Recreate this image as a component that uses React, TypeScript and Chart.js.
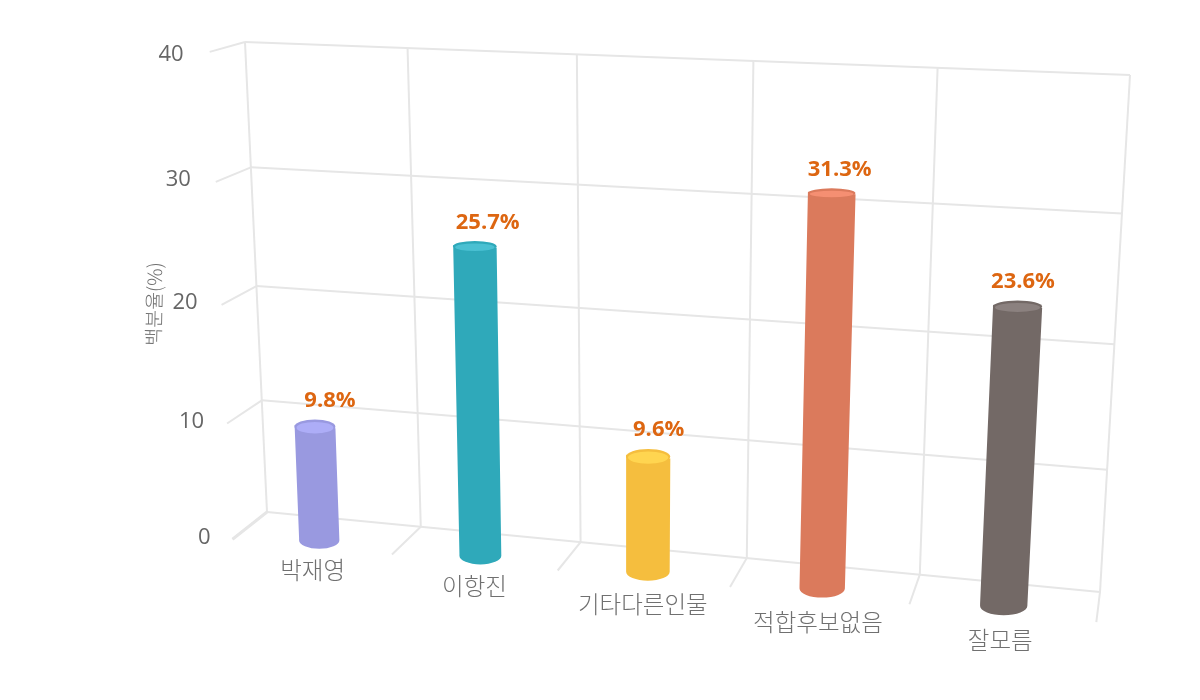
import React, { useEffect, useRef } from "react";
import { Chart, registerables } from "chart.js";

Chart.register(...registerables);

const categories = ["박재영", "이항진", "기타다른인물", "적합후보없음", "잘모름"];
const shares = [9.8, 25.7, 9.6, 31.3, 23.6];
const sideColors = ["#9999E0", "#2FA9BA", "#F5BE3E", "#DB7A5C", "#736966"];
const topColors = ["#ADADF7", "#4AC0D2", "#FFD550", "#F58F72", "#8B817F"];
const axisTitle = "백분율(%)";

// Camera: the back wall's corners on the page and the vanishing point of the depth axis.
const WALL = { bl: [267, 512], br: [1100, 592], tr: [1130, 75], tl: [245, 42] };
const VANISH = [1199, -225];
const FRONT_K = 1.037;
const BAR_K = 1.028;
const LABEL_K = 1.014;
const ELLIPSE_DK = 0.0112;
const VERTICAL_WARP = 0.04;

const GRID = "#E6E6E6";
const KOREAN = '"Noto Sans CJK KR", "Noto Sans", sans-serif';
const LATIN = '"Open Sans", "Noto Sans", sans-serif';

function makeHomography() {
  const [x0, y0] = WALL.bl, [x1, y1] = WALL.br, [x2, y2] = WALL.tr, [x3, y3] = WALL.tl;
  const dx1 = x1 - x2, dx2 = x3 - x2, sx = x0 - x1 + x2 - x3;
  const dy1 = y1 - y2, dy2 = y3 - y2, sy = y0 - y1 + y2 - y3;
  const den = dx1 * dy2 - dx2 * dy1;
  const g = (sx * dy2 - dx2 * sy) / den;
  const h = (dx1 * sy - sx * dy1) / den;
  const a = x1 - x0 + g * x1, b = x3 - x0 + h * x3;
  const d = y1 - y0 + g * y1, e = y3 - y0 + h * y3;
  return (u: number, v: number) => {
    const w = g * u + h * v + 1;
    return [(a * u + b * v + x0) / w, (d * u + e * v + y0) / w];
  };
}
const wallPoint = makeHomography();

const project = (u: number, v: number, k = 1) => {
  const vw = v - VERTICAL_WARP * v * v * (1 - v);
  const [x, y] = wallPoint(u, vw);
  return [VANISH[0] + k * (x - VANISH[0]), VANISH[1] + k * (y - VANISH[1])];
};

const perspectivePlugin = {
  id: "perspective3d",
  beforeDatasetsDraw(chart: any) {
    const { ctx, chartArea: area, scales } = chart;
    const xs = scales.x, ys = scales.y;
    const U = (px: number) => (px - area.left) / (area.right - area.left);
    const V = (px: number) => (area.bottom - px) / (area.bottom - area.top);
    const line = (a: number[], b: number[], w = 2) => {
      ctx.beginPath();
      ctx.moveTo(a[0], a[1]);
      ctx.lineTo(b[0], b[1]);
      ctx.lineWidth = w;
      ctx.strokeStyle = GRID;
      ctx.stroke();
    };
    ctx.save();
    // value gridlines + side-wall ticks
    ys.ticks.forEach((t: any) => {
      const v = V(ys.getPixelForValue(t.value));
      line(project(0, v), project(1, v));
      line(project(0, v), project(0, v, FRONT_K), t.value === 0 ? 3 : 2);
    });
    // category gridlines + floor ticks
    for (let i = 0; i <= categories.length; i++) {
      const u = U(xs.getPixelForValue(i - 0.5));
      line(project(u, 0), project(u, 1));
      line(project(u, 0), project(u, 0, FRONT_K));
    }
    // value axis labels
    ctx.font = `22px ${LATIN}`;
    ctx.fillStyle = "#666666";
    ctx.textAlign = "right";
    ctx.textBaseline = "middle";
    ys.ticks.forEach((t: any) => {
      const v = V(ys.getPixelForValue(t.value));
      const p = project(0, v, FRONT_K);
      ctx.fillText(String(t.value), p[0] - 22 - 4 * v, p[1] + (v > 0.99 ? 3 : -2));
    });
    // category labels
    ctx.font = `300 23.5px ${KOREAN}`;
    ctx.fillStyle = "#707070";
    ctx.textAlign = "center";
    categories.forEach((c, i) => {
      const u = U(xs.getPixelForValue(i));
      const p = project(u, 0, FRONT_K);
      ctx.fillText(xs.getLabelForValue(i), p[0] + 1.5 - 3.5 * u, p[1] + 22.5 + 5 * u);
    });
    // axis title
    ctx.save();
    ctx.translate(154, 304);
    ctx.rotate(-Math.PI / 2 + 0.02);
    ctx.font = `300 19.5px ${KOREAN}`;
    ctx.fillStyle = "#707070";
    ctx.fillText(axisTitle, 0, 0);
    ctx.restore();
    ctx.restore();
  },
  beforeDatasetDraw(chart: any, args: any) {
    const { ctx, chartArea: area } = chart;
    const W = area.right - area.left;
    const U = (px: number) => (px - area.left) / W;
    const V = (px: number) => (area.bottom - px) / (area.bottom - area.top);
    const meta = chart.getDatasetMeta(args.index);
    meta.data.forEach((bar: any, i: number) => {
      const u = U(bar.x);
      const du = bar.width / W / 2;
      const vTop = V(bar.y), vBase = V(bar.base);
      const tl = project(u - du, vTop, BAR_K), tr = project(u + du, vTop, BAR_K);
      const bl = project(u - du, vBase, BAR_K), br = project(u + du, vBase, BAR_K);
      const top = project(u, vTop, BAR_K), base = project(u, vBase, BAR_K);
      const ryOf = (y: number) => ELLIPSE_DK * (y - VANISH[1]);
      const rxT = (tr[0] - tl[0]) / 2, rxB = (br[0] - bl[0]) / 2;
      ctx.save();
      ctx.fillStyle = sideColors[i];
      ctx.beginPath();
      ctx.moveTo(tl[0], tl[1]);
      ctx.lineTo(bl[0], bl[1]);
      ctx.ellipse((bl[0] + br[0]) / 2, (bl[1] + br[1]) / 2, rxB, ryOf(base[1]), 0, Math.PI, 0, true);
      ctx.lineTo(tr[0], tr[1]);
      ctx.closePath();
      ctx.fill();
      const ryT = ryOf(top[1]);
      ctx.beginPath();
      ctx.ellipse(top[0], top[1], rxT, ryT, 0, 0, Math.PI * 2);
      ctx.fill();
      ctx.fillStyle = topColors[i];
      ctx.beginPath();
      ctx.ellipse(top[0], top[1] + 1, rxT - 2, Math.max(ryT - 1.5, 1), 0, 0, Math.PI * 2);
      ctx.fill();
      // value label
      const lp = project(u, vTop, LABEL_K);
      ctx.font = `bold 22px ${LATIN}`;
      ctx.fillStyle = "#DD6611";
      ctx.textAlign = "center";
      ctx.textBaseline = "middle";
      ctx.fillText(`${chart.data.datasets[args.index].data[i]}%`, lp[0] + 3, lp[1] - 17.5);
      ctx.restore();
    });
    return false;
  },
};

export default function App() {
  const ref = useRef<HTMLCanvasElement>(null);
  useEffect(() => {
    document.body.style.margin = "0";
    const chart = new Chart(ref.current!, {
      type: "bar",
      data: {
        labels: categories,
        datasets: [
          {
            label: axisTitle,
            data: shares,
            backgroundColor: sideColors,
            categoryPercentage: 1,
            barPercentage: 0.255,
          },
        ],
      },
      options: {
        responsive: false,
        animation: false,
        layout: { padding: 0 },
        plugins: { legend: { display: false }, tooltip: { enabled: false } },
        scales: {
          x: { display: false, offset: true },
          y: { display: false, min: 0, max: 40, ticks: { stepSize: 10 } },
        },
      },
      plugins: [perspectivePlugin],
    } as any);
    return () => chart.destroy();
  }, []);
  return <canvas ref={ref} width={1200} height={700} style={{ display: "block", background: "#fff" }} />;
}
